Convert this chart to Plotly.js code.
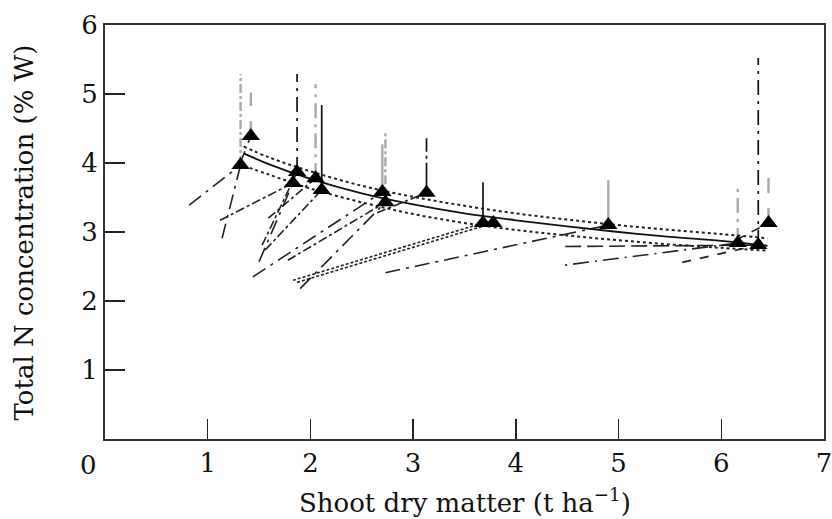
<!DOCTYPE html>
<html>
<head>
<meta charset="utf-8">
<script src="https://cdn.plot.ly/plotly-3.0.1.min.js"></script>
<style>html,body{margin:0;padding:0;background:#fff;}#chart{width:832px;height:519px;}</style>
</head>
<body>
<div id="chart"></div>
<script>
// ---- data ----
// final sampling points (triangles)
const triX = [1.32, 1.42, 1.83, 1.87, 2.05, 2.11, 2.70, 2.73, 3.13, 3.68, 3.78, 4.90, 6.16, 6.36, 6.46];
const triY = [3.97, 4.39, 3.71, 3.87, 3.78, 3.61, 3.58, 3.43, 3.57, 3.13, 3.13, 3.10, 2.84, 2.81, 3.13];

// trajectories: start point -> triangle index
const segX0 = [0.82, 1.14, 1.33, 1.12, 1.50, 1.53, 1.59, 1.56, 1.44, 1.78, 1.90, 2.65, 1.83, 1.87, 2.73, 4.48, 4.48, 5.62, 6.14];
const segY0 = [3.39, 2.91, 4.05, 3.17, 2.57, 2.81, 3.20, 2.74, 2.35, 2.59, 2.18, 3.28, 2.30, 2.27, 2.41, 2.52, 2.79, 2.56, 2.88];
const segTo = [0, 0, 1, 2, 2, 3, 4, 5, 6, 7, 7, 8, 9, 10, 11, 12, 13, 13, 14];

// vertical bars: triangle index -> top value
const vIdx = [0, 1, 3, 4, 5, 6, 7, 8, 9, 11, 12, 13, 14];
const vTop = [5.29, 5.02, 5.29, 5.14, 4.84, 4.27, 4.46, 4.36, 3.72, 3.75, 3.66, 5.52, 3.87];

// fitted dilution curve and its bounds
const curveX = [1.35, 1.6, 2.0, 2.5, 3.0, 3.5, 4.0, 4.5, 5.0, 5.5, 6.0, 6.45];
const curveMid = [4.14, 3.98, 3.77, 3.56, 3.40, 3.27, 3.17, 3.08, 3.00, 2.93, 2.87, 2.80];
const curveUp  = [4.24, 4.08, 3.88, 3.67, 3.51, 3.38, 3.27, 3.18, 3.10, 3.03, 2.97, 2.91];
const curveLo  = [3.96, 3.83, 3.63, 3.43, 3.26, 3.13, 3.03, 2.95, 2.88, 2.82, 2.77, 2.73];

const xTicks = [1, 2, 3, 4, 5, 6, 7];
const yTicks = [1, 2, 3, 4, 5, 6];

// ---- styles (kept apart from data) ----
const segDash = ['longdashdot','longdashdot','dash','dashdot','longdashdot','dashdot','dashdot','dashdot','longdashdot','dashdot','longdashdot','dashdot','3px,2px','3px,2px','longdashdot','2px,6px,16px,6px','16px,6px','dash','dash'];
const vDash = ['dashdot','longdash','longdashdot','longdashdot','solid','solid','dashdot','30px,4px,3px,4px','solid','solid','longdashdot','longdashdot','longdash'];
const vGray = [true, true, false, true, false, true, true, false, false, true, true, false, true];

const FONT = 'DejaVu Serif, Liberation Serif, serif';
const traces = [];

segX0.forEach((x0, i) => {
  const t = segTo[i];
  traces.push({
    x: [x0, triX[t]], y: [segY0[i], triY[t]], mode: 'lines', hoverinfo: 'skip',
    line: {color: '#222', width: 1.6, dash: segDash[i]}, showlegend: false
  });
});

vIdx.forEach((t, i) => {
  traces.push({
    x: [triX[t], triX[t]], y: [triY[t], vTop[i]], mode: 'lines', hoverinfo: 'skip',
    line: {color: vGray[i] ? '#aaaaaa' : '#111', width: vGray[i] ? 2.4 : 1.7, dash: vDash[i]}, showlegend: false
  });
});

traces.push({x: curveX, y: curveUp, mode: 'lines', line: {shape: 'spline', color: '#222', width: 2, dash: '3px,3px'}, showlegend: false});
traces.push({x: curveX, y: curveLo, mode: 'lines', line: {shape: 'spline', color: '#222', width: 2, dash: '3px,3px'}, showlegend: false});
traces.push({x: curveX, y: curveMid, mode: 'lines', line: {shape: 'spline', color: '#111', width: 1.8}, showlegend: false});

traces.push({
  x: triX, y: triY, mode: 'markers',
  marker: {symbol: 'triangle-up', size: 16, color: '#000'}, showlegend: false
});

const layout = {
  width: 832, height: 519,
  margin: {l: 105, r: 8, t: 25, b: 80},
  paper_bgcolor: '#fff', plot_bgcolor: '#fff',
  font: {family: FONT, size: 26, color: '#111'},
  xaxis: {
    range: [0, 7], tickvals: xTicks, ticktext: xTicks.map(String),
    ticks: 'inside', ticklen: 20, tickwidth: 1.5, tickcolor: '#222',
    showline: true, linewidth: 2, linecolor: '#333', mirror: true,
    showgrid: false, zeroline: false, fixedrange: true,
    ticklabeloverflow: 'allow',
    tickfont: {family: FONT, size: 26, color: '#111'}
  },
  yaxis: {
    range: [0, 6], tickvals: yTicks, ticktext: yTicks.map(String),
    ticks: 'inside', ticklen: 20, tickwidth: 1.5, tickcolor: '#222',
    showline: true, linewidth: 2, linecolor: '#333', mirror: true,
    showgrid: false, zeroline: false, fixedrange: true,
    ticklabeloverflow: 'allow',
    tickfont: {family: FONT, size: 26, color: '#111'}
  },
  annotations: [
    {text: '0', xref: 'paper', yref: 'paper', x: -0.023, y: -0.063, xanchor: 'center', yanchor: 'middle', showarrow: false, font: {family: FONT, size: 26, color: '#111'}},
    {text: 'Shoot dry matter (t ha<sup>−1</sup>)', xref: 'paper', yref: 'paper', x: 0.5, y: -0.15, xanchor: 'center', yanchor: 'middle', showarrow: false, font: {family: FONT, size: 26, color: '#111'}},
    {text: 'Total N concentration (% W)', xref: 'paper', yref: 'paper', x: -0.112, y: 0.5, xanchor: 'center', yanchor: 'middle', textangle: -90, showarrow: false, font: {family: FONT, size: 26, color: '#111'}}
  ]
};

Plotly.newPlot('chart', traces, layout, {displayModeBar: false, staticPlot: true});
</script>
</body>
</html>
